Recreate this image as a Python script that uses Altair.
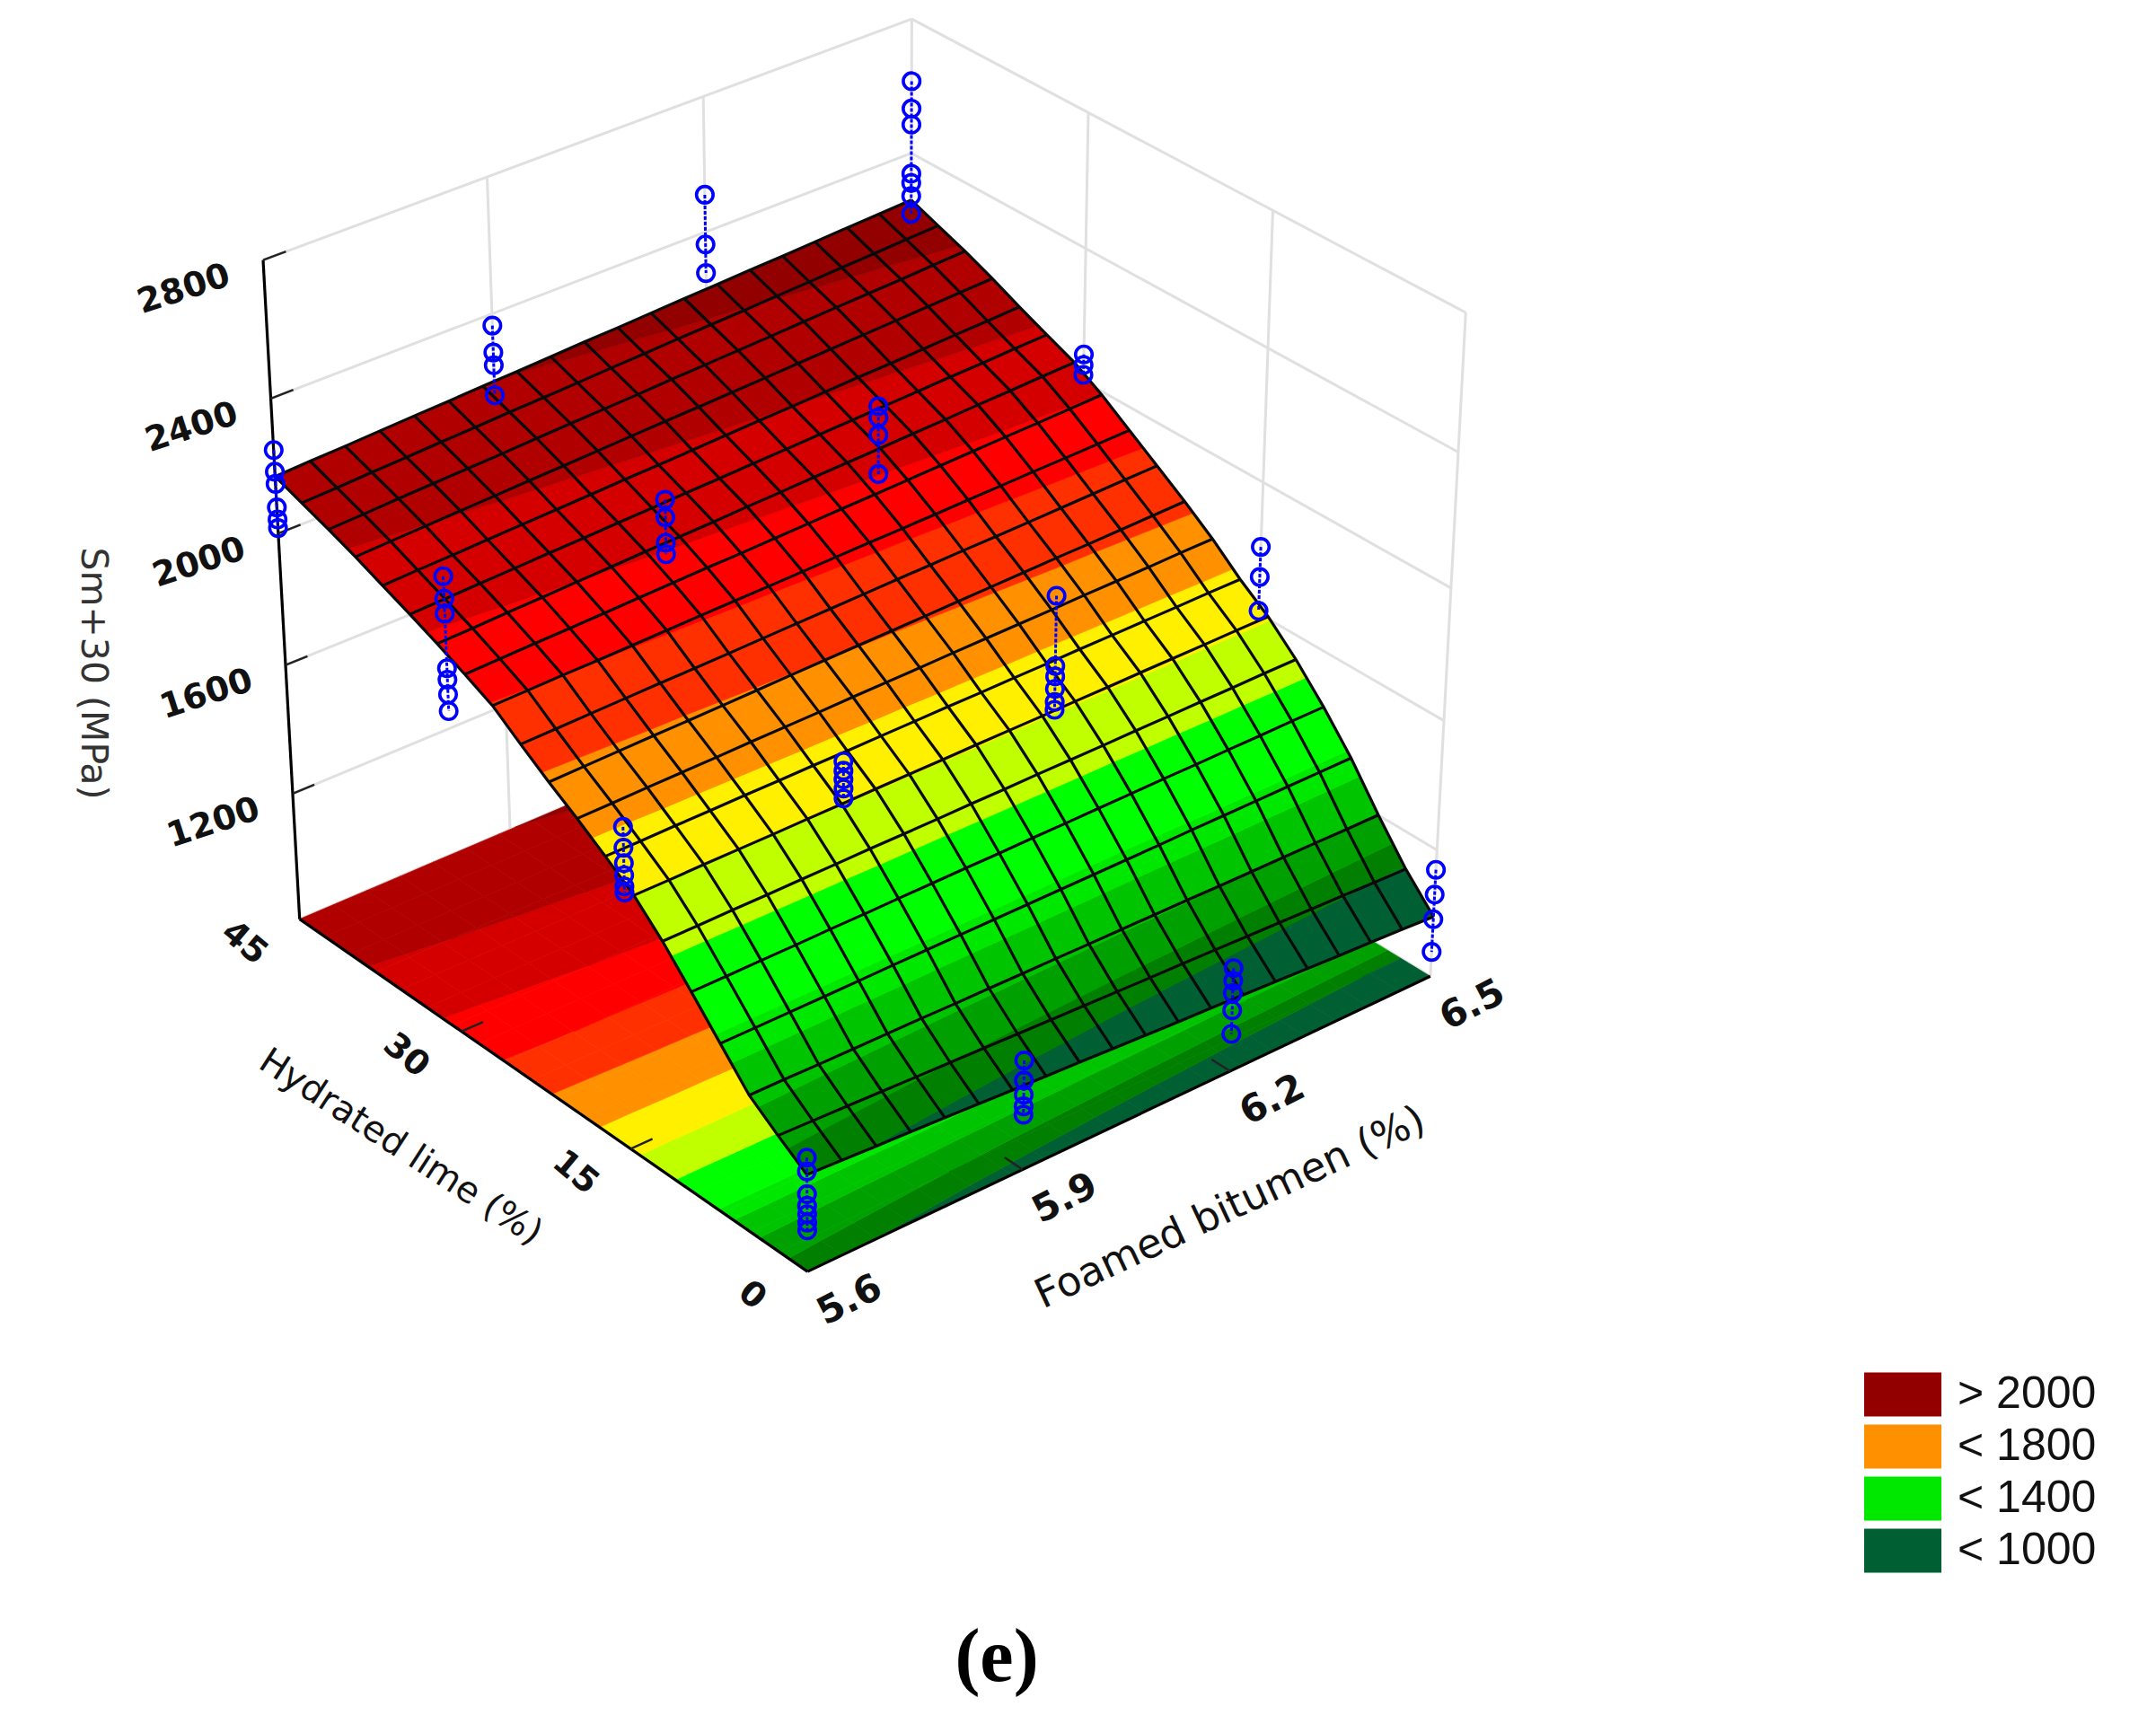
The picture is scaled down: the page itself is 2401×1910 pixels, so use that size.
import numpy as np
import pandas as pd
import altair as alt

# ---------- surface: rows run from lime 45 % down to lime 0 %,
# columns from bitumen 5.6 % up to 6.5 %
SM_ROWS = [
 [2170,2175,2179,2184,2189,2193,2198,2202,2207,2212,2216,2221,2226,2230,2235,2239,2244,2249,2253,2258],
 [2141,2145,2150,2154,2159,2163,2168,2172,2176,2181,2185,2190,2194,2198,2203,2207,2212,2216,2221,2225],
 [2112,2116,2121,2125,2129,2133,2138,2142,2146,2150,2155,2159,2163,2167,2172,2176,2180,2184,2189,2193],
 [2081,2085,2089,2093,2097,2101,2105,2109,2113,2117,2120,2124,2128,2132,2136,2140,2144,2148,2152,2156],
 [2046,2050,2053,2057,2061,2064,2068,2072,2075,2079,2083,2087,2090,2094,2098,2101,2105,2109,2112,2116],
 [2012,2015,2019,2022,2026,2029,2033,2036,2040,2043,2047,2050,2054,2057,2061,2064,2068,2071,2075,2078],
 [1976,1979,1983,1986,1990,1993,1997,2000,2003,2007,2010,2014,2017,2020,2024,2027,2031,2034,2038,2041],
 [1937,1940,1943,1945,1948,1951,1954,1957,1959,1962,1965,1968,1970,1973,1976,1979,1982,1984,1987,1990],
 [1896,1898,1900,1901,1903,1905,1907,1909,1910,1912,1914,1916,1917,1919,1921,1923,1925,1926,1928,1930],
 [1834,1836,1838,1840,1842,1843,1845,1847,1849,1851,1853,1855,1857,1859,1860,1862,1864,1866,1868,1870],
 [1775,1777,1779,1781,1782,1784,1786,1788,1790,1792,1793,1795,1797,1799,1801,1803,1804,1806,1808,1810],
 [1720,1721,1723,1724,1725,1727,1728,1729,1731,1732,1733,1735,1736,1737,1738,1740,1741,1742,1744,1745],
 [1662,1662,1663,1663,1664,1664,1665,1665,1666,1666,1667,1667,1668,1668,1669,1669,1670,1670,1671,1671],
 [1600,1600,1601,1601,1601,1602,1602,1603,1603,1603,1604,1604,1604,1605,1605,1606,1606,1606,1607,1607],
 [1518,1518,1519,1519,1520,1520,1521,1521,1521,1522,1522,1523,1523,1523,1524,1524,1525,1525,1526,1526],
 [1422,1422,1423,1423,1424,1424,1425,1425,1426,1426,1427,1427,1428,1428,1429,1429,1430,1430,1431,1431],
 [1323,1323,1323,1323,1323,1324,1324,1324,1324,1324,1324,1324,1324,1324,1325,1325,1325,1325,1325,1325],
 [1224,1223,1221,1220,1219,1218,1216,1215,1214,1213,1211,1210,1209,1208,1206,1205,1204,1203,1201,1200],
 [1160,1156,1152,1148,1144,1140,1136,1132,1128,1124,1120,1116,1113,1109,1105,1101,1097,1093,1089,1085],
 [1100,1094,1088,1083,1077,1071,1065,1059,1054,1048,1042,1036,1031,1025,1019,1013,1007,1002,996,990],
]

BAND_LABELS = ["< 1000","< 1100","< 1200","< 1300","< 1400","< 1500","< 1600","< 1700","< 1800","< 1900","< 2000","< 2100","< 2200","> 2000"]
BAND_COLORS = ["#005f33","#007f00","#00a000","#00c400","#00e800","#00ff00","#bfff00","#fff000","#ff9000","#ff3000","#ff0000","#d40000","#b00000","#930000"]
BAND_TOPS   = [1090,1140,1205,1285,1340,1490,1600,1690,1790,1900,1990,2090,2200,9999]
LEGEND_SHOWN = ["> 2000","< 1800","< 1400","< 1000"]

Z_TICKS = [1200,1600,2000,2400,2800]
LIME_TICKS = [0,15,30,45]
BIT_TICKS = [5.6,5.9,6.2,6.5]

# measured points: (lime, bitumen) -> Sm values
POINTS = {
 (45,5.6):[2248,2184,2148,2078,2042,2016],
 (45,5.9):[2365,2285,2247,2157],
 (45,6.2):[2511,2363,2277],
 (45,6.5):[2616,2534,2486,2338,2310,2270,2216],
 (30,5.6):[2192,2126,2082,1920,1886,1842,1792],
 (30,5.9):[2154,2102,2026,1992],
 (30,6.2):[2176,2142,2090,1972],
 (30,6.5):[2081,2049,2019],
 (15,5.6):[1786,1724,1678,1642,1608,1590],
 (15,5.9):[1698,1670,1644,1616,1586],
 (15,6.2):[1922,1710,1678,1640,1600,1576],
 (15,6.5):[1804,1712,1608],
 (0,5.6):[1152,1110,1040,1004,978,952,928],
 (0,5.9):[1140,1078,1034,998,972],
 (0,6.2):[1124,1085,1046,992,918],
 (0,6.5):[1138,1060,982,878],
}

# ---------- perspective camera, fitted to the box corners of the reference
CAMERA_ANCHORS = [
 (0,0,0,897,1421),(1,0,0,1594,1088),(0,1,0,330,1025),(0,1,1,293,289),(1,1,1,1017,21),(1,0,1,1634,348),
 (1/3,1,1,544,197),(2/3,1,1,783,109),(1,2/3,1,1210,127),(1,1/3,1,1416,234),
 (0,2/3,0,522,1147),(0,1/3,0,709,1278),(0,1,.2,324,883),(0,1,.4,316,740),(0,1,.8,301,444),
 (1,0,.2,1601,947),(1,0,.4,1609,802),(1,0,.6,1616,655),(1,0,.8,1624,502),
 (1/3,0,0,1133,1300),(2/3,0,0,1368,1193),
]
A, rhs = [], []
for X,Y,Z,u,v in CAMERA_ANCHORS:
    A.append([X,Y,Z,1,0,0,0,0,-u*X,-u*Y,-u*Z]); rhs.append(u)
    A.append([0,0,0,0,X,Y,Z,1,-v*X,-v*Y,-v*Z]); rhs.append(v)
p = np.linalg.lstsq(np.array(A,float), np.array(rhs,float), rcond=None)[0]
P = np.append(p,1).reshape(3,4)

def project(bit, lime, sm):
    h = P @ np.array([(bit-5.6)/0.9, lime/45, (sm-800)/2000, 1.0])
    return round(float(h[0]/h[2]),1), round(float(h[1]/h[2]),1)

# ---------- band polygons
lime_grid = [45*(1-i/19) for i in range(20)]
bit_grid  = [5.6+0.9*j/19 for j in range(20)]

def clip(poly, level, keep_above):
    out = []
    n = len(poly)
    for k in range(n):
        a, b = poly[k], poly[(k+1)%n]
        ina = (a[2]>=level) if keep_above else (a[2]<=level)
        inb = (b[2]>=level) if keep_above else (b[2]<=level)
        if ina: out.append(a)
        if ina != inb:
            t = (level-a[2])/(b[2]-a[2])
            out.append((a[0]+t*(b[0]-a[0]), a[1]+t*(b[1]-a[1]), level))
    return out

def features(flat):
    feats = []
    for i in range(19):
        for j in range(19):
            quad = [(bit_grid[j+dj], lime_grid[i+di], SM_ROWS[i+di][j+dj]) for di,dj in [(0,0),(0,1),(1,1),(1,0)]]
            lo = 0
            for lab, top in zip(BAND_LABELS, BAND_TOPS):
                poly = clip(clip(quad, lo, True), top, False)
                lo = top
                if len(poly) < 3: continue
                ring = [list(project(q[0], q[1], 800 if flat else q[2])) for q in poly]
                ring.append(ring[0])
                feats.append({"type":"Feature","geometry":{"type":"Polygon","coordinates":[ring]},"properties":{"band":lab}})
    return feats

shapes = features(True) + features(False)

band_scale = alt.Scale(domain=BAND_LABELS, range=BAND_COLORS)
surface = alt.Chart(alt.Data(values=shapes)).mark_geoshape(strokeWidth=0.7).encode(
    fill=alt.Fill("properties.band:N", scale=band_scale, legend=None),
    stroke=alt.Stroke("properties.band:N", scale=band_scale, legend=None),
)
legend_only = [{"type":"Feature","geometry":{"type":"Polygon","coordinates":[]},"properties":{"band":lab}} for lab in LEGEND_SHOWN]
legend_layer = alt.Chart(alt.Data(values=legend_only)).mark_geoshape(stroke="black", strokeWidth=4).encode(
    fill=alt.Fill("properties.band:N", scale=band_scale, legend=alt.Legend(
        values=LEGEND_SHOWN, title=None, orient="none", legendX=2068, legendY=1516,
        symbolType="M-1,-.55H1V.55H-1Z", symbolSize=6724, symbolStrokeColor="black", symbolStrokeWidth=4,
        labelFont="Liberation Sans", labelFontSize=50, labelColor="#111", labelOffset=18, clipHeight=58, rowPadding=0)),
)

def segs(rows):
    recs = []
    for g,(a,b) in enumerate(rows):
        for k,q in enumerate((a,b)):
            x,y = project(*q)
            recs.append({"lon":x,"lat":y,"g":g,"k":k})
    return pd.DataFrame(recs)

def polylines(lines):
    recs = []
    for g,line in enumerate(lines):
        for k,q in enumerate(line):
            x,y = project(*q)
            recs.append({"lon":x,"lat":y,"g":g,"k":k})
    return pd.DataFrame(recs)

def line_layer(df, color, width, **kw):
    return alt.Chart(df).mark_line(color=color, strokeWidth=width, **kw).encode(
        longitude="lon:Q", latitude="lat:Q", detail="g:N", order="k:Q")

# walls
wall = []
for z in [800]+Z_TICKS:
    wall.append(((5.6,45,z),(6.5,45,z)))
    wall.append(((6.5,45,z),(6.5,0,z)))
for b in BIT_TICKS[1:]:
    wall.append(((b,45,800),(b,45,2800)))
for l in LIME_TICKS[:3]:
    wall.append(((6.5,l,800),(6.5,l,2800)))
walls = line_layer(segs(wall), "#e0e0e0", 3)

# axes
axis = [((5.6,45,800),(5.6,45,2800)), ((5.6,45,800),(5.6,0,800)), ((5.6,0,800),(6.5,0,800))]
axes = line_layer(segs(axis), "#000000", 3.2)
ticks = [((5.6,45,z),(5.63,45,z)) for z in Z_TICKS] + [((5.6,l,800),(5.63,l,800)) for l in LIME_TICKS[1:3]] + [((b,0,800),(b,1.5,800)) for b in BIT_TICKS[1:3]]
tick_layer = line_layer(segs(ticks), "#222222", 2.5)

# mesh
mesh = [[(bit_grid[j],lime_grid[i],SM_ROWS[i][j]) for j in range(20)] for i in range(20)]
mesh += [[(bit_grid[j],lime_grid[i],SM_ROWS[i][j]) for i in range(20)] for j in range(20)]
mesh_layer = line_layer(polylines(mesh), "#0a0a0a", 3.2)

# measured points
stems = [[(b,l,max(v)),(b,l,min(v))] for (l,b),v in POINTS.items()]
stem_layer = line_layer(polylines(stems), "#0000ff", 3, strokeDash=[4,2])
pt = []
for (l,b),vals in POINTS.items():
    for v in vals:
        x,y = project(b,l,v)
        pt.append({"lon":x,"lat":y})
point_layer = alt.Chart(pd.DataFrame(pt)).mark_point(filled=False, color="#0000ff", size=342, strokeWidth=3.6, opacity=1).encode(
    longitude="lon:Q", latitude="lat:Q")

# texts
def text(label, xy, angle, size, font="DejaVu Sans", color="#111111", weight="normal"):
    return alt.Chart(pd.DataFrame({"lon":[xy[0]],"lat":[xy[1]],"t":[label]})).mark_text(
        angle=angle, fontSize=size, font=font, color=color, fontWeight=weight, align="center", baseline="middle"
    ).encode(longitude="lon:Q", latitude="lat:Q", text="t:N")

def off(q, dx, dy):
    x,y = project(*q)
    return x+dx, y+dy

texts = []
for z in Z_TICKS:
    texts.append(text(str(z), off((5.6,45,z),-88,33), 342, 38, weight="bold"))
for l in LIME_TICKS:
    texts.append(text(str(l), off((5.6,l,800),-62,27), 40, 38, weight="bold"))
for b in BIT_TICKS:
    texts.append(text(str(b), off((b,0,800),47,32), 333, 42, weight="bold"))
texts.append(text("Sm+30 (MPa)", (103,750), 90, 41, color="#333333"))
texts.append(text("Hydrated lime (%)", (446,1278), 33, 40))
texts.append(text("Foamed bitumen (%)", (1370,1345), 335, 45))
texts.append(text("(e)", (1110,1847), 0, 84, font="Liberation Serif", color="#000000", weight="bold"))

chart = alt.layer(walls, legend_layer, surface, axes, tick_layer, mesh_layer, stem_layer, point_layer, *texts).properties(
    width=2385, height=1894, padding=0,
    projection=alt.Projection(type="identity", scale=1, translate=[-8,-8]),
    autosize=alt.AutoSizeParams(type="none"),
).configure_view(stroke=None).configure(background="white")

chart.save("out.html", embed_options={"renderer":"svg","actions":False})
